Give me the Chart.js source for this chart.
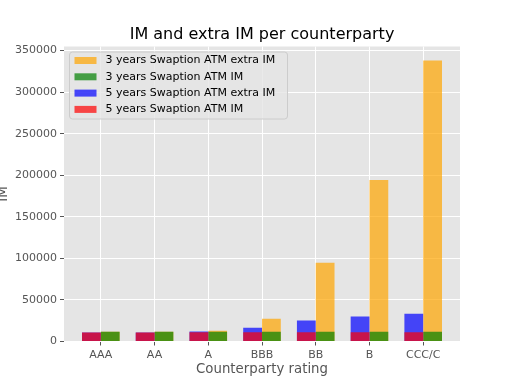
<!DOCTYPE html>
<html>
<head>
<meta charset="utf-8">
<script src="https://cdn.jsdelivr.net/npm/chart.js@4/dist/chart.umd.min.js"></script>
<style>
  body { margin: 0; background: #fff; }
  canvas { display: block; }
</style>
</head>
<body>
<canvas id="imChart" width="512" height="384"></canvas>
<script>
// Data
const ratings = ['AAA', 'AA', 'A', 'BBB', 'BB', 'B', 'CCC/C'];
const im5y = [10900, 10900, 11000, 11000, 11000, 11000, 11000];
const extraIm5y = [10900, 10900, 11900, 16500, 25300, 30100, 33400];
const im3y = [11700, 11700, 11800, 11800, 11800, 11800, 11800];
const extraIm3y = [11700, 11700, 12900, 27400, 94700, 194300, 338000];
const yTicks = [0, 50000, 100000, 150000, 200000, 250000, 300000, 350000];

const toPoints = (arr) => arr.map((v, i) => ({ x: i, y: v }));

Chart.defaults.font.family = '"DejaVu Sans", sans-serif';
Chart.defaults.color = '#555555';

// grey plot background (ggplot look)
const plotBg = {
    id: 'plotBg',
    beforeDraw(chart) {
        const { ctx, chartArea: a } = chart;
        ctx.save();
        ctx.fillStyle = '#e5e5e5';
        ctx.fillRect(a.left, a.top, a.right - a.left, a.bottom - a.top);
        ctx.restore();
    }
};

// matplotlib-style legend box in the upper left corner
const legendBox = {
    id: 'legendBox',
    afterDatasetsDraw(chart) {
        const { ctx, chartArea: a } = chart;
        const items = chart.data.datasets.slice().reverse();
        const x = a.left + 5.5, y = a.top + 5.5, w = 218, h = 67;
        ctx.save();
        ctx.fillStyle = 'rgba(229,229,229,0.8)';
        ctx.strokeStyle = '#cccccc';
        ctx.lineWidth = 1;
        ctx.beginPath();
        ctx.roundRect(x, y, w, h, 3);
        ctx.fill();
        ctx.stroke();
        ctx.font = '11px "DejaVu Sans"';
        ctx.textBaseline = 'middle';
        items.forEach((ds, i) => {
            const cy = y + 8.5 + i * 16.3;
            ctx.fillStyle = ds.backgroundColor;
            ctx.fillRect(x + 5, cy - 3.5, 22, 7);
            ctx.fillStyle = '#000000';
            ctx.fillText(ds.label, x + 36, cy);
        });
        ctx.restore();
    }
};

new Chart(document.getElementById('imChart'), {
    type: 'bar',
    data: {
        datasets: [
            { label: '5 years Swaption ATM IM', data: toPoints(im5y), stack: '5y', backgroundColor: 'rgba(255,0,0,0.7)' },
            { label: '5 years Swaption ATM extra IM', data: toPoints(extraIm5y), stack: '5y', backgroundColor: 'rgba(0,0,255,0.7)' },
            { label: '3 years Swaption ATM IM', data: toPoints(im3y), stack: '3y', backgroundColor: 'rgba(0,128,0,0.7)' },
            { label: '3 years Swaption ATM extra IM', data: toPoints(extraIm3y), stack: '3y', backgroundColor: 'rgba(255,165,0,0.7)' }
        ]
    },
    options: {
        responsive: false,
        animation: false,
        categoryPercentage: 0.7,
        barPercentage: 1.0,
        layout: { padding: { left: 0, right: 52, top: 0, bottom: 0 } },
        plugins: {
            legend: { display: false },
            tooltip: { enabled: false },
            title: {
                display: true,
                fullSize: false,
                text: 'IM and extra IM per counterparty',
                color: '#000000',
                font: { size: 16, weight: 'normal' },
                padding: { top: 25, bottom: 2.3 }
            }
        },
        scales: {
            x: {
                type: 'linear',
                min: -0.685,
                max: 6.685,
                offset: false,
                border: { display: false },
                grid: { color: '#ffffff', lineWidth: 1, offset: false, tickColor: '#555555', tickLength: 4 },
                ticks: {
                    stepSize: 1,
                    includeBounds: false,
                    autoSkip: false,
                    maxRotation: 0,
                    padding: 3,
                    font: { size: 11 },
                    color: '#555555',
                    callback: (v) => Number.isInteger(v) ? ratings[v] : ''
                },
                title: {
                    display: true,
                    text: 'Counterparty rating',
                    font: { size: 13.3 },
                    color: '#555555',
                    padding: { top: 0, bottom: 6 }
                },
                afterFit: (scale) => { scale.height = 42.5; }
            },
            y: {
                stacked: false,
                min: 0,
                max: 354900,
                border: { display: false },
                grid: { color: '#ffffff', lineWidth: 1, tickColor: '#555555', tickLength: 4 },
                afterBuildTicks: (scale) => { scale.ticks = yTicks.map(v => ({ value: v })); },
                ticks: {
                    padding: 3,
                    font: { size: 11 },
                    color: '#555555',
                    callback: (v) => String(v)
                },
                title: {
                    display: true,
                    text: 'IM',
                    font: { size: 13.3 },
                    color: '#555555',
                    padding: { top: -4, bottom: 0 }
                },
                afterFit: (scale) => { scale.width = 64; }
            }
        }
    },
    plugins: [plotBg, legendBox]
});
</script>
</body>
</html>
